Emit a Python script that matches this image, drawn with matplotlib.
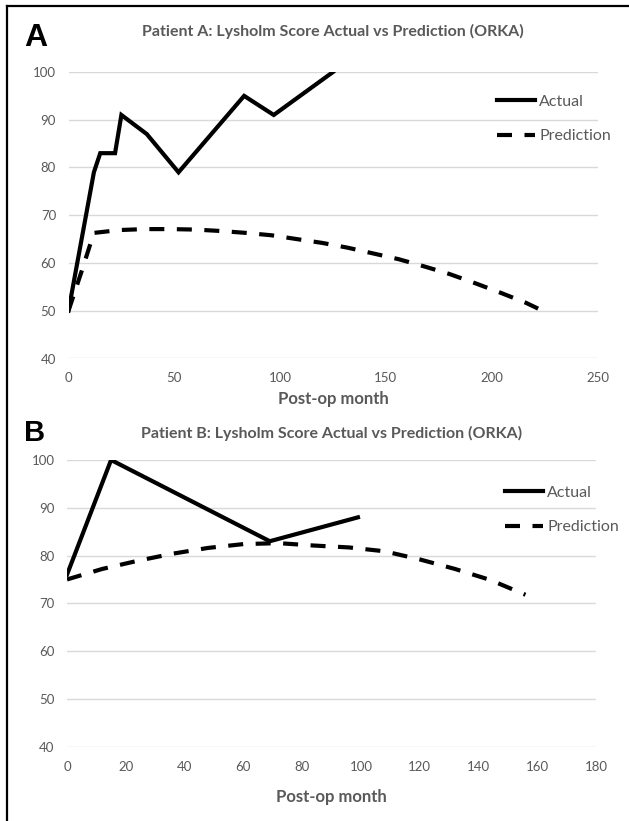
import matplotlib
matplotlib.use('Agg')
import matplotlib.pyplot as plt
from matplotlib.lines import Line2D

plt.rcParams['font.family'] = ['Lato', 'DejaVu Sans']

## Data
# Patient A
a_actual_month = [0, 12, 15, 22, 25, 37, 52, 83, 97, 125]
a_actual_score = [50, 79, 83, 83, 91, 87, 79, 95, 91, 100]
a_pred_month = [0, 6, 12, 24, 36, 48, 60, 72, 84, 96, 108, 120, 132, 144,
                156, 168, 180, 192, 204, 216, 225]
a_pred_score = [50, 58, 66.3, 66.9, 67.1, 67.1, 67.0, 66.7, 66.3, 65.8, 65.0,
                64.2, 63.2, 62.0, 60.8, 59.3, 57.7, 55.8, 53.8, 51.7, 49.8]
a_xticks = [0, 50, 100, 150, 200, 250]

# Patient B
b_actual_month = [0, 15, 69, 99]
b_actual_score = [76, 100, 83, 88]
b_pred_month = [0, 12, 24, 36, 48, 60, 72, 84, 96, 108, 120, 132, 144, 156]
b_pred_score = [75, 77.2, 78.9, 80.4, 81.6, 82.4, 82.6, 82.1, 81.7, 80.9,
                79.2, 77.2, 74.9, 71.8]
b_xticks = [0, 20, 40, 60, 80, 100, 120, 140, 160, 180]

yticks = [40, 50, 60, 70, 80, 90, 100]

W, H = 629, 821
gray = '#595959'

fig = plt.figure(figsize=(W/100, H/100), dpi=100)
fig.patch.set_facecolor('white')

def fx(px):
   return px / W

def fy(py):
   return 1 - py / H

# axes boxes in pixels: left, right, top, bottom
ax1 = fig.add_axes([fx(68.5), fy(358.5), fx(597.5-68.5), (358.5-72)/H])
ax2 = fig.add_axes([fx(67), fy(746.7), fx(596-67), (746.7-460)/H])

panels = [
   (ax1, a_actual_month, a_actual_score, a_pred_month, a_pred_score, a_xticks,
    'Patient A: Lysholm Score Actual vs Prediction (ORKA)', 1.14, -0.141,
    (0.810, 0.836)),
   (ax2, b_actual_month, b_actual_score, b_pred_month, b_pred_score, b_xticks,
    'Patient B: Lysholm Score Actual vs Prediction (ORKA)', 1.094, -0.175,
    (0.828, 0.8256)),
]

for ax, am, asc, pm, psc, xt, title, ty, ly, lpos in panels:
   ax.plot(am, asc, color='black', lw=3, solid_joinstyle='miter',
           label='Actual', zorder=3)
   ax.plot(pm, psc, color='black', lw=3, dashes=(3.6, 3.0),
           label='Prediction', zorder=3)
   ax.set_xlim(xt[0], xt[-1])
   ax.set_ylim(40, 100)
   ax.set_xticks(xt)
   ax.set_yticks(yticks)
   ax.grid(axis='y', color='#d9d9d9', lw=1)
   ax.set_axisbelow(True)
   for s in ax.spines.values():
      s.set_visible(False)
   ax.tick_params(length=0, labelsize=9.5, labelcolor=gray)
   ax.tick_params(axis='x', pad=10)
   ax.tick_params(axis='y', pad=9)
   ax.text(0.5, ty, title, transform=ax.transAxes, ha='center', va='center',
           fontsize=11.5, fontweight='bold', color=gray)
   ax.set_xlabel('Post-op month', fontsize=12, fontweight='bold', color=gray)
   ax.xaxis.set_label_coords(0.5, ly)
   ax.xaxis.label.set_va('center')
   ax.legend(loc='center left', bbox_to_anchor=lpos, frameon=False,
             fontsize=11.5, labelcolor=gray, handlelength=2.4,
             handletextpad=0.25, labelspacing=1.25, borderpad=0,
             borderaxespad=0)

# panel letters
fig.text(fx(24), fy(38), 'A', fontsize=23, fontweight='bold',
         family='Liberation Sans', va='center', ha='left')
fig.text(fx(24), fy(433), 'B', fontsize=21, fontweight='bold',
         family='Liberation Sans', va='center', ha='left')

# frame (top and left edges)
fig.add_artist(Line2D([fx(7), 1], [fy(6.5), fy(6.5)], color='black', lw=1.6))
fig.add_artist(Line2D([fx(7), fx(7)], [fy(6.5), 0], color='black', lw=1.6))

fig.savefig('out.png', dpi=100)
